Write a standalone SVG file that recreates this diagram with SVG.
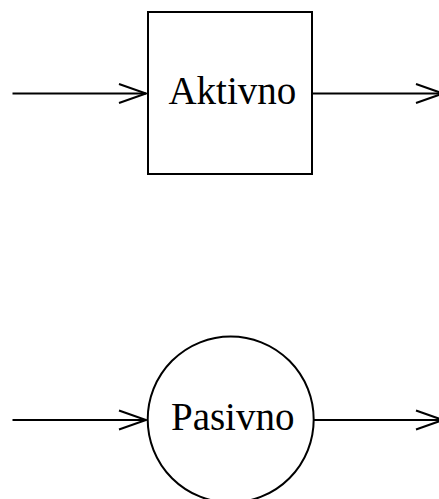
<svg xmlns="http://www.w3.org/2000/svg" width="439" height="499" viewBox="0 0 439 499">
  <defs>
    <style>
      .shape { fill: #ffffff; stroke: #000000; stroke-width: 2; }
      .conn { fill: none; stroke: #000000; stroke-width: 2; }
      .label { font-family: "Liberation Serif", "Times New Roman", serif; font-size: 39px; fill: #000000; text-anchor: middle; }
    </style>
    <marker id="chev" markerUnits="userSpaceOnUse" viewBox="-30 -12 32 24" refX="0" refY="0" markerWidth="32" markerHeight="24" orient="auto" overflow="visible">
      <path d="M-27,-9.5 L0,0 L-27,9.5" fill="none" stroke="#000000" stroke-width="2" stroke-linejoin="miter"/>
    </marker>
  </defs>
  <rect width="439" height="499" fill="#ffffff"/>
  <g id="connectors">
    <line class="conn" x1="12.5" y1="93.5" x2="146" y2="93.5" marker-end="url(#chev)"/>
    <line class="conn" x1="313" y1="93.5" x2="443" y2="93.5" marker-end="url(#chev)"/>
    <line class="conn" x1="12.5" y1="420" x2="146" y2="420" marker-end="url(#chev)"/>
    <line class="conn" x1="314" y1="420" x2="443" y2="420" marker-end="url(#chev)"/>
  </g>
  <g id="node-aktivno">
    <rect class="shape" x="148" y="12" width="164" height="162"/>
    <text class="label" x="232.3" y="103.5">Aktivno</text>
  </g>
  <g id="node-pasivno">
    <circle class="shape" cx="230.7" cy="419.5" r="83"/>
    <text class="label" x="232.7" y="429.5">Pasivno</text>
  </g>
</svg>
